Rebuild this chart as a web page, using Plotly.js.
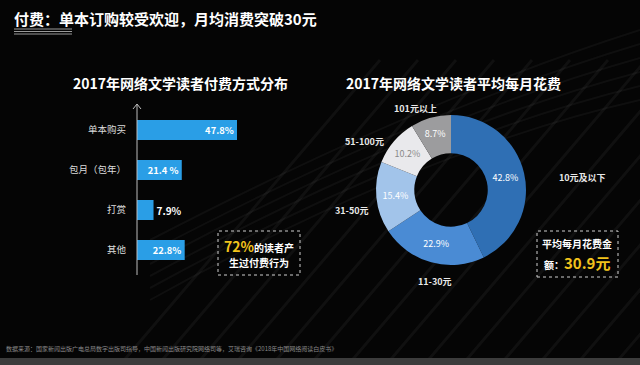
<!DOCTYPE html>
<html><head><meta charset="utf-8">
<script src="https://cdn.plot.ly/plotly-3.0.1.min.js"></script>
<style>html,body{margin:0;padding:0;background:#050505;}#c{width:640px;height:365px;}</style>
</head><body><div id="c"></div>
<script>
// ---- data ----
const payCategories = ['单本购买', '包月（包年）', '打赏', '其他'];
const payValues = [47.8, 21.4, 7.9, 22.8];
const payLabels = ['47.8%', '21.4 %', '7.9%', '22.8%'];

const spendCategories = ['10元及以下', '11-30元', '31-50元', '51-100元', '101元以上'];
const spendValues = [42.8, 22.9, 15.4, 10.2, 8.7];
const spendLabels = ['42.8%', '22.9%', '15.4%', '10.2%', '8.7%'];
const spendColors = ['#2f6fb4', '#4a8bd4', '#a2c4ea', '#e9e9ec', '#9c9c9e'];
const spendTextColors = ['#ffffff', '#ffffff', '#ffffff', '#8a8a8a', '#ffffff'];

const W = 640, H = 365;
const px = x => x / W, py = y => 1 - y / H;
const FONT = '"Noto Sans CJK SC", "Noto Sans", sans-serif';

const barTrace = {
  type: 'bar', orientation: 'h',
  y: payCategories, x: payValues,
  text: payLabels, textposition: 'auto', insidetextanchor: 'end',
  textfont: {color: '#ffffff', size: 10, family: FONT, weight: 'bold'},
  outsidetextfont: {color: '#ffffff', size: 10, family: FONT},
  cliponaxis: false,
  width: 0.5,
  marker: {color: '#2a9ee6', line: {width: 0}},
  xaxis: 'x', yaxis: 'y', hoverinfo: 'none'
};

const pieTrace = {
  type: 'pie', values: spendValues, labels: spendCategories,
  text: spendLabels, textinfo: 'text', textposition: 'inside',
  insidetextorientation: 'horizontal',
  textfont: {color: spendTextColors, size: 9, family: FONT},
  marker: {colors: spendColors, line: {width: 0}},
  hole: 0.49, sort: false, direction: 'clockwise', rotation: 0,
  domain: {x: [px(376), px(526)], y: [py(265), py(115)]},
  showlegend: false, hoverinfo: 'none'
};

// outside labels for donut (positions)
const spendLabelPos = [[557, 177, 'left'], [435, 281, 'center'], [352, 210, 'center'], [364, 142, 'center'], [415, 108, 'center']];

const P = {xref: 'paper', yref: 'paper', showarrow: false};
const annotations = [
  Object.assign({text: '<b>付费：单本订购较受欢迎，月均消费突破30元</b>', x: px(12), y: py(18), xanchor: 'left', yanchor: 'middle', font: {size: 15, color: '#ffffff', family: FONT}}, P),
  Object.assign({text: '<b>2017年网络文学读者付费方式分布</b>', x: px(180), y: py(83), xanchor: 'center', yanchor: 'middle', font: {size: 14, color: '#ffffff', family: FONT}}, P),
  Object.assign({text: '<b>2017年网络文学读者平均每月花费</b>', x: px(453), y: py(83), xanchor: 'center', yanchor: 'middle', font: {size: 14, color: '#ffffff', family: FONT}}, P),
  Object.assign({text: '<b><span style="color:#f2c31c;font-size:14px">72%</span>的读者产</b>', x: px(259), y: py(246), xanchor: 'center', yanchor: 'middle', font: {size: 10, color: '#ffffff', family: FONT}}, P),
  Object.assign({text: '<b>生过付费行为</b>', x: px(259), y: py(262), xanchor: 'center', yanchor: 'middle', font: {size: 10, color: '#ffffff', family: FONT}}, P),
  Object.assign({text: '<b>平均每月花费金</b>', x: px(577), y: py(243), xanchor: 'center', yanchor: 'middle', font: {size: 10, color: '#ffffff', family: FONT}}, P),
  Object.assign({text: '<b>额：<span style="color:#f2c31c;font-size:15px">30.9元</span></b>', x: px(577), y: py(262), xanchor: 'center', yanchor: 'middle', font: {size: 10, color: '#ffffff', family: FONT}}, P),
  Object.assign({text: '数据来源：国家新闻出版广电总局数字出版司指导，中国新闻出版研究院网络司等，艾瑞咨询《2018年中国网络阅读白皮书》', x: px(4), y: py(348), xanchor: 'left', yanchor: 'middle', font: {size: 6, color: '#8a8a8a', family: FONT}}, P)
];
spendCategories.forEach((c, i) => {
  const p = spendLabelPos[i];
  annotations.push(Object.assign({text: '<b>' + c + '</b>', x: px(p[0]), y: py(p[1]), xanchor: p[2], yanchor: 'middle', font: {size: 9, color: '#e8e8e8', family: FONT}}, P));
});

const shapes = [];
// background streaks
for (let i = 0; i < 14; i++) {
  const x0 = 120 + i * 38;
  shapes.push({type: 'line', xref: 'paper', yref: 'paper', x0: px(x0), y0: py(365), x1: px(x0 + 260), y1: py(60), line: {color: 'rgba(120,120,120,0.10)', width: 3}, layer: 'below'});
}
for (let i = 0; i < 6; i++) {
  shapes.push({type: 'path', xref: 'paper', yref: 'paper', path: `M ${px(150)} ${py(300 - i * 12)} Q ${px(420)} ${py(150 - i * 10)} ${px(640)} ${py(100 - i * 14)}`, line: {color: 'rgba(160,160,160,0.07)', width: 2}, layer: 'below'});
}
// title underline
[29, 31.5, 34].forEach(y => shapes.push({type: 'line', xref: 'paper', yref: 'paper', x0: px(14), x1: px(72), y0: py(y), y1: py(y), line: {color: '#9a9a9a', width: 1}}));
// bar axis with arrow
shapes.push({type: 'line', xref: 'paper', yref: 'paper', x0: px(137), x1: px(137), y0: py(275), y1: py(104), line: {color: '#bdbdbd', width: 1}});
shapes.push({type: 'path', xref: 'paper', yref: 'paper', path: `M ${px(133)} ${py(109)} L ${px(137)} ${py(104)} L ${px(141)} ${py(109)}`, line: {color: '#bdbdbd', width: 1}});
// dashed boxes
shapes.push({type: 'rect', xref: 'paper', yref: 'paper', x0: px(218), x1: px(300), y0: py(275), y1: py(231), line: {color: '#cfcfcf', width: 1, dash: 'dot'}});
shapes.push({type: 'rect', xref: 'paper', yref: 'paper', x0: px(537), x1: px(618), y0: py(277), y1: py(231), line: {color: '#cfcfcf', width: 1, dash: 'dot'}});
// bottom strip
shapes.push({type: 'rect', xref: 'paper', yref: 'paper', x0: 0, x1: 1, y0: 0, y1: py(358), fillcolor: '#3c3c3c', line: {width: 0}});

const layout = {
  width: W, height: H,
  margin: {l: 0, r: 0, t: 0, b: 0},
  paper_bgcolor: '#050505', plot_bgcolor: 'rgba(0,0,0,0)',
  showlegend: false,
  xaxis: {domain: [px(137), px(300)], range: [0, 163 / (100 / 47.8)], visible: false, fixedrange: true},
  yaxis: {domain: [py(270), py(110)], range: [3.5, -0.5], type: 'category', anchor: 'x',
    showgrid: false, zeroline: false, showline: false, ticks: '',
    ticklabelstandoff: 10,
    tickfont: {size: 9.5, color: '#dcdcdc', family: FONT}},
  font: {family: FONT},
  annotations: annotations,
  shapes: shapes
};

Plotly.newPlot('c', [barTrace, pieTrace], layout, {staticPlot: true, displayModeBar: false});
</script>
</body></html>
